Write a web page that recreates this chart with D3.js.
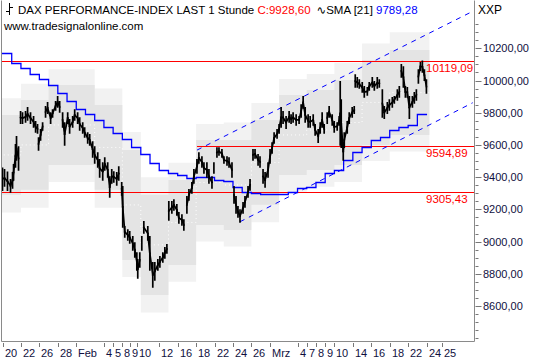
<!DOCTYPE html>
<html><head><meta charset="utf-8">
<script src="https://cdn.jsdelivr.net/npm/d3@7"></script>
<style>body{margin:0;background:#fff;} svg{display:block;font-family:"Liberation Sans",Arial,sans-serif;}</style>
</head><body><svg id="c" width="540" height="360"></svg>
<script>
// ---- data ----
const priceDay  = [0,0.22,0.54,0.87,1.09,1.2,1.41,1.52,1.74,1.96,2.17,2.5,2.72,3.04,3.37,3.59,3.8,3.91,4.13,4.35,4.67,4.89,5.22,5.43,5.76,5.98,6.2,6.52,6.74,7.07,7.28,7.61,7.83,8.15,8.37,8.7,8.91,9.24,9.46,9.78,10,10.33,10.54,10.87,11.09,11.41,11.63,11.85,12.07,12.39,12.61,12.93,13.04,13.26,13.59,13.8,14.13,14.35,14.57,14.67,14.89,15.11,15.33,15.76,15.98,16.3,16.52,16.85,17.07,17.39,17.61,17.83,18.04,18.37,18.59,18.91,19.13,19.46,19.67,20,20.22,20.54,20.76,21.09,21.3,21.63,21.85,22.17,22.39,22.72,22.93,23.26,23.48,23.8,24.02,24.35,24.57,24.89,25.11,25.33,25.54,25.76,26.09,26.3,26.63,26.85,27.17,27.39,27.72,27.93,28.26,28.48,28.8,29.02,29.24,29.46,29.78,30,30.22,30.43,30.76,31.09,31.3,31.52,31.85,32.17,32.39,32.61,32.83,33.15,33.37,33.7,33.91,34.24,34.46,34.67,34.89,35.22,35.43,35.76,35.98,36.3,36.52,36.63,36.74,36.96,37.07,37.39,37.61,37.93,38.15,38.26,38.48,38.7,39.02,39.24,39.57,39.78,40.11,40.33,40.65,40.87,41.2,41.41,41.74,41.96,42.28,42.5,42.83,43.04,43.26,43.48,43.7,43.91,44.13,44.46,44.67,44.89,45.11,45.33,45.54,45.76,45.98];
const priceHigh = [9455,9445,9430,9383,9426,9476,9600,9650,9587,9805,9798,9805,9830,9798,9774,9743,9724,9643,9693,9736,9836,9861,9798,9817,9867,9898,9867,9798,9736,9798,9755,9774,9817,9798,9767,9736,9705,9674,9662,9618,9587,9550,9507,9488,9519,9488,9401,9445,9432,9426,9463,9364,9339,9091,9072,9060,9029,8991,8929,8886,8929,9029,9122,9091,9029,8868,8868,8886,8905,8929,8961,8979,9246,9246,9258,9228,9178,9165,9134,9277,9321,9364,9445,9507,9550,9525,9488,9488,9445,9401,9488,9581,9581,9569,9525,9525,9519,9488,9339,9277,9215,9196,9240,9277,9339,9383,9569,9569,9538,9525,9445,9426,9488,9569,9612,9674,9693,9724,9830,9805,9774,9805,9786,9798,9786,9774,9848,9898,9830,9786,9774,9786,9724,9693,9736,9798,9724,9798,9836,9786,9743,9736,9774,9991,9879,9612,9674,9743,9798,9830,9836,10034,10016,10003,9985,9960,9954,9985,10016,9991,10016,10003,9941,9836,9861,9879,9892,9898,9941,9960,10097,10084,9960,9954,9898,9898,9923,9941,10065,10109,10119,10065,10003];
const priceLow  = [9320,9345,9320,9308,9333,9383,9463,9507,9445,9736,9736,9743,9755,9736,9712,9681,9674,9569,9631,9693,9774,9798,9736,9774,9817,9836,9805,9712,9600,9736,9674,9712,9755,9736,9693,9674,9650,9612,9600,9525,9488,9463,9401,9383,9445,9401,9277,9364,9370,9352,9383,9290,9091,9029,9010,8991,8948,8905,8824,8774,8843,8948,9054,9010,8824,8718,8762,8824,8843,8874,8899,8929,9134,9178,9196,9165,9116,9103,9072,9178,9258,9302,9364,9426,9488,9463,9426,9401,9364,9333,9426,9525,9538,9525,9488,9476,9463,9401,9240,9178,9153,9122,9178,9215,9277,9321,9507,9519,9476,9463,9364,9339,9401,9488,9550,9612,9643,9674,9712,9736,9705,9743,9736,9743,9724,9736,9774,9830,9743,9712,9712,9724,9662,9618,9674,9712,9674,9736,9774,9724,9681,9693,9724,9600,9587,9507,9587,9674,9736,9774,9798,9960,9960,9954,9929,9898,9910,9941,9960,9941,9954,9960,9774,9767,9798,9817,9836,9861,9879,9898,10022,9960,9898,9898,9767,9836,9861,9879,9985,10065,10053,10003,9923];
const lastDay = 46.05, lastClose = 9928.60;

const smaValues = [10169,10111,10076,10039,10008,9972,9923,9873,9823,9792,9752,9713,9677,9636,9585,9544,9486,9445,9428,9414,9393,9399,9399,9383,9373,9337,9308,9300,9294,9294,9294,9310,9331,9341,9372,9424,9445,9507,9558,9589,9631,9651,9693,9710,9724,9789];
const smaLast = 9789.28;

const bandDays   = [-0.3,2,5,10,13,15,18,21,24,27,30,33,36,39,42,46.3];
const innerUpper = [9786,9879,9972,9848,9569,9290,9383,9631,9631,9755,9910,9941,10003,10128,10190,10190];
const innerLower = [9290,9321,9476,9321,8886,8669,8855,9103,9072,9228,9414,9445,9476,9600,9662,9662];
const outerUpper = [9890,9980,10070,9950,9680,9400,9490,9730,9740,9860,10010,10040,10110,10230,10300,10300];
const outerLower = [9180,9210,9370,9210,8780,8560,8750,9000,8970,9120,9310,9340,9370,9500,9560,9560];

const channelUpper = {d0:21.1, v0:9568, d1:50.7, v1:10421};
const channelLower = {d0:25.76, v0:9123, d1:51.0, v1:9862};

const levels = [
  {v:10119.09, d0:-1,   label:"10119,09"},
  {v:9594.89,  d0:21.1, label:"9594,89"},
  {v:9305.43,  d0:-1,   label:"9305,43"}
];

const xTickDays   = [0,2,4,6,8,11,12,13,13.8,14.6,17,19,21,23,25,27,29,32,33,34,35,36,38,40,42,44,46,47.7];
const xTickLabels = ["20","22","26","28","Feb","4","5","8","9","10","12","16","18","22","24","26","Mrz","4","7","8","9","10","14","16","18","22","24","25"];
const yMajor = [8600,8800,9000,9200,9400,9600,9800,10000,10200];

// ---- layout ----
const svg = d3.select("#c");
const P = {l:1.5, t:0.5, r:474.5, b:341.5};
const x = d3.scaleLinear().domain([0,46]).range([2.5,426.6]);
const y = d3.scaleLinear().domain([8600,10200]).range([306,48.3]);
const fmt = v => d3.format(".2f")(v).replace(".",",");

svg.append("defs").append("clipPath").attr("id","clip")
  .append("rect").attr("x",P.l).attr("y",P.t).attr("width",P.r-P.l).attr("height",P.b-P.t);
const g = svg.append("g").attr("clip-path","url(#clip)");

// bands
const bandData = bandDays.map((d,i)=>({d, ou:outerUpper[i], ol:outerLower[i], iu:innerUpper[i], il:innerLower[i]}));
g.append("path").datum(bandData).attr("fill","#f2f2f2")
  .attr("d", d3.area().curve(d3.curveStepAfter).x(p=>x(p.d)).y0(p=>y(p.ol)).y1(p=>y(p.ou)));
g.append("path").datum(bandData).attr("fill","#e4e4e4")
  .attr("d", d3.area().curve(d3.curveStepAfter).x(p=>x(p.d)).y0(p=>y(p.il)).y1(p=>y(p.iu)));
// faint white dotted mid line
g.append("path").datum(bandData).attr("fill","none").attr("stroke","#fff").attr("stroke-width",1)
  .attr("stroke-dasharray","1,3")
  .attr("d", d3.line().curve(d3.curveStepAfter).x(p=>x(p.d)).y(p=>y((p.iu+p.il)/2)));

// horizontal levels
levels.forEach(L=>{
  g.append("line").attr("x1",Math.max(P.l,x(L.d0))).attr("x2",P.r).attr("y1",Math.round(y(L.v))+0.5).attr("y2",Math.round(y(L.v))+0.5)
   .attr("stroke","#ff0000").attr("stroke-width",1);
});

// channel
[channelUpper, channelLower].forEach(c=>{
  g.append("line").attr("x1",x(c.d0)).attr("y1",y(c.v0)).attr("x2",x(c.d1)).attr("y2",y(c.v1))
   .attr("stroke","#0000ff").attr("stroke-width",1).attr("stroke-dasharray","5,5");
});

// SMA step line
const smaData = smaValues.map((v,i)=>({d:i, v}));
smaData[0].d = -0.3;
smaData.push({d:lastDay, v:smaLast});
g.append("path").datum(smaData).attr("fill","none").attr("stroke","#0000ff").attr("stroke-width",1.3)
  .attr("d", d3.line().curve(d3.curveStepAfter).x(p=>x(p.d)).y(p=>Math.round(y(p.v))+0.5));

// price: hi-lo strokes joined where ranges overlap
const price = priceDay.map((d,i)=>({d, hi:priceHigh[i], lo:priceLow[i]}));
const pg = g.append("g").attr("stroke","#000").attr("stroke-width",1.7).attr("stroke-linecap","square");
pg.selectAll("line.v").data(price).join("line").attr("class","v")
  .attr("x1",p=>x(p.d)).attr("x2",p=>x(p.d)).attr("y1",p=>y(p.hi)).attr("y2",p=>y(p.lo));
const links = price.slice(1).map((p,i)=>({a:price[i], b:p}))
  .filter(k=>k.b.lo<=k.a.hi && k.b.hi>=k.a.lo);
pg.selectAll("line.h").data(links).join("line").attr("class","h")
  .attr("x1",k=>x(k.a.d)).attr("x2",k=>x(k.b.d))
  .attr("y1",k=>y((k.a.hi+k.a.lo)/2)).attr("y2",k=>y((k.b.hi+k.b.lo)/2));

// level labels
levels.forEach(L=>{
  svg.append("text").attr("x",426).attr("y",Math.round(y(L.v))+11).attr("fill","#ff0000")
    .attr("font-size","11.5px").text(L.label);
});

// frame
svg.append("path").attr("d",`M${P.l},${P.t}V${P.b}H${P.r}V${P.t}`).attr("fill","none").attr("stroke","#8a8a8a").attr("stroke-width",1);

// right axis ticks
const minor = d3.range(8400,10351,50);
svg.append("g").selectAll("line").data(minor).join("line")
  .attr("x1",P.r+1).attr("x2",d=>yMajor.includes(d)?P.r+7:P.r+4)
  .attr("y1",d=>Math.round(y(d))+0.5).attr("y2",d=>Math.round(y(d))+0.5)
  .attr("stroke","#777");
svg.append("g").selectAll("text").data(yMajor).join("text")
  .attr("x",483).attr("y",d=>y(d)+4).attr("font-size","11px").attr("fill","#101040")
  .text(d=>fmt(d));

// x axis
const xt = svg.append("g");
xTickDays.forEach((d,i)=>{
  const xx = Math.round(x(d))+0.5;
  xt.append("line").attr("x1",xx).attr("x2",xx).attr("y1",343).attr("y2",347).attr("stroke","#777");
  xt.append("text").attr("x",xx+1.5).attr("y",357).attr("font-size","11px").attr("fill","#101040").text(xTickLabels[i]);
});

// header
const icon = svg.append("g").attr("stroke","#000").attr("stroke-width",1);
icon.append("line").attr("x1",9.5).attr("x2",9.5).attr("y1",3).attr("y2",15);
icon.append("line").attr("x1",6).attr("x2",9.5).attr("y1",11.5).attr("y2",11.5);
icon.append("line").attr("x1",9.5).attr("x2",13).attr("y1",7.5).attr("y2",7.5);

const t = svg.append("text").attr("x",18).attr("y",13.5).attr("font-size","11.5px");
t.append("tspan").attr("fill","#000").text("DAX PERFORMANCE-INDEX LAST 1 Stunde ");
t.append("tspan").attr("fill","#ff0000").text("C:"+fmt(lastClose));
t.append("tspan").attr("fill","#000").attr("dx",6).text("\u223F").attr("font-family","DejaVu Sans");
t.append("tspan").attr("fill","#000").text("SMA [21] ");
t.append("tspan").attr("fill","#0000ff").text(fmt(smaLast));

svg.append("text").attr("x",4).attr("y",29.5).attr("font-size","11.5px").attr("fill","#000").text("www.tradesignalonline.com");
svg.append("text").attr("x",478).attr("y",14).attr("font-size","12px").attr("fill","#000").text("XXP");
</script></body></html>
